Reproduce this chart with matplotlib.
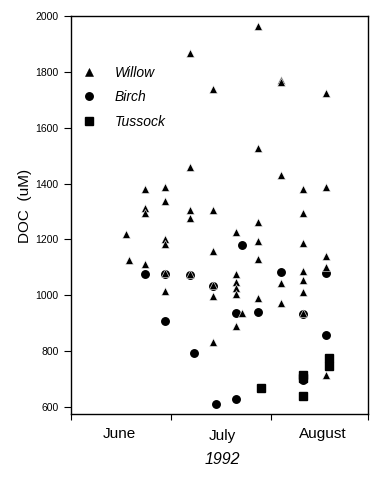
import matplotlib.pyplot as plt

plt.rcParams['font.family'] = ['Liberation Sans', 'DejaVu Sans']

# day of year 1992 (June 1 = 152), DOC in uM
willow_day = [169, 170, 175, 175, 175, 175,
              181, 181, 181, 181, 181, 181,
              189, 189, 189, 189, 189,
              196, 196, 196, 196, 196, 196,
              203, 203, 203, 203, 203, 203, 205,
              210, 210, 210, 210, 210, 210,
              217, 217, 217, 217, 217,
              224, 224, 224, 224, 224, 224, 224,
              231, 231, 231, 231, 231]
willow_doc = [1221, 1125, 1382, 1314, 1295, 1111,
              1389, 1336, 1200, 1184, 1014, 1078,
              1868, 1461, 1307, 1275, 1076,
              1739, 1307, 1159, 996, 832, 1038,
              1225, 1075, 1046, 1025, 1004, 889, 938,
              1964, 1529, 1264, 1196, 1129, 991,
              1772, 1764, 1430, 1043, 971,
              1379, 1296, 1188, 1088, 1055, 1012, 935,
              1725, 1387, 1139, 1100, 716]

birch_day = [175, 181, 181, 189, 190, 196, 197, 203, 203, 205,
             210, 217, 224, 224, 231, 231]
birch_doc = [1075, 1075, 907, 1072, 795, 1034, 611, 937, 629, 1179,
             939, 1084, 932, 696, 1080, 857]

tussock_day = [211, 224, 224, 224, 232, 232]
tussock_doc = [668, 716, 703, 639, 776, 746]

months = ['June', 'July', 'August']
month_x = [0.162, 0.508, 0.848]
month_y = [-0.033, -0.038, -0.033]
month_edges = [152, 183, 214, 244]
yticks = [600, 800, 1000, 1200, 1400, 1600, 1800, 2000]

fig = plt.figure(figsize=(3.87, 4.79), dpi=100)
ax = fig.add_axes([0.1835, 0.1357, 0.7675, 0.831])

b, = ax.plot(birch_day, birch_doc, 'o', color='black', ms=5.4, mec='black',
             label='Birch', zorder=3)
w, = ax.plot(willow_day, willow_doc, '^', color='black', ms=5.8, mec='white',
             mew=0.4, label='Willow', zorder=4)
t, = ax.plot(tussock_day, tussock_doc, 's', color='black', ms=5.2, mec='black',
             label='Tussock', zorder=5)

ax.set_xlim(152, 244)
ax.set_ylim(575, 2000)
ax.set_xticks(month_edges)
ax.set_xticklabels([])
ax.set_yticks(yticks)
ax.tick_params(axis='y', direction='out', length=5, width=0.8, pad=4,
               labelsize=7.5)
ax.tick_params(axis='x', direction='out', length=4.5, width=0.8)
for s in ax.spines.values():
    s.set_linewidth(1.0)

for name, xm, ym in zip(months, month_x, month_y):
    ax.text(xm, ym, name, transform=ax.transAxes, ha='center', va='top',
            fontsize=11)
ax.text(0.51, -0.095, '1992', transform=ax.transAxes, ha='center', va='top',
        fontsize=11.5, style='italic')

ax.set_ylabel('DOC  (uM)', fontsize=11)
ax.yaxis.set_label_coords(-0.13, 0.523)

leg = ax.legend(handles=[w, b, t], loc='upper left',
                bbox_to_anchor=(0.035, 0.875), frameon=False, borderpad=0,
                borderaxespad=0, handlelength=1.1, handletextpad=1.3,
                labelspacing=0.75, prop={'style': 'italic', 'size': 10})
for h in leg.legend_handles:
    h.set_markeredgecolor('black')

fig.savefig('out.png', dpi=100)
